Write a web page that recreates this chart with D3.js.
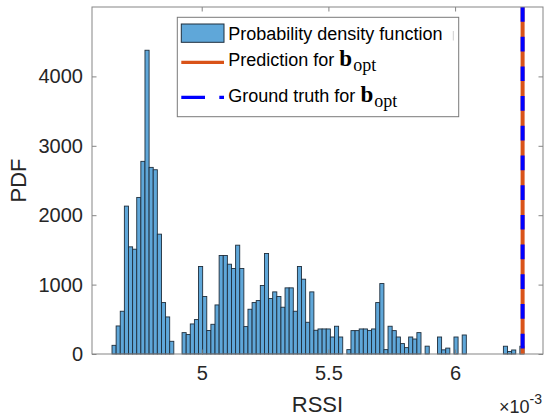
<!DOCTYPE html>
<html><head><meta charset="utf-8">
<script src="https://cdn.jsdelivr.net/npm/d3@7"></script>
<style>body{margin:0;background:#fff}svg{display:block}</style>
</head><body><svg id="c" width="546" height="418"></svg>
<script>
// ---- data (x in units of 1e-3) ----
const binStart = 4.646;
const binWidth = 0.01626;
const pdfValues = [
  125, 404, 616, 2131, 1544, 1510, 2256, 2776, 4377, 2689,
  2655, 1727, 741, 534, 183, 0, 0, 308, 280, 433,
  496, 1261, 828, 338, 428, 707, 1419, 1419, 1294, 1232,
  1568, 1232, 395, 645, 741, 770, 987, 1448, 799, 895,
  828, 674, 953, 953, 616, 1261, 1078, 457, 895, 342,
  361, 361, 361, 245, 400, 245, 0, 63, 337, 337,
  361, 361, 340, 361, 741, 1015, 63, 400, 337, 245,
  150, 92, 245, 216, 308, 0, 113, 0, 0, 245,
  60, 85, 0, 245, 0, 274, 0, 0, 0, 0,
  0, 0, 0, 0, 0, 112, 36, 58, 0, 112
];
const predictionValue = 6.2665;
const groundTruthValue = 6.2665;
const xTicks = [5, 5.5, 6];
const xTickLabels = ["5", "5.5", "6"];
const yTicks = [0, 1000, 2000, 3000, 4000];
const yTickLabels = ["0", "1000", "2000", "3000", "4000"];
const legendLabels = ["Probability density function", "Prediction for ", "Ground truth for "];
const xLabel = "RSSI", yLabel = "PDF";

// ---- layout ----
const L = 92, R = 543, T = 7, B = 354;
const svg = d3.select("#c");
const font = "'Liberation Sans', Arial, sans-serif";
const x = d3.scaleLinear().domain([4.567, 6.347]).range([L, R]);
const y = d3.scaleLinear().domain([0, 5000]).range([B, T]);

const barFill = "#5fa7d9", barEdge = "#1f2e3c";
const orange = "#D95319", blue = "#0000FF", axisCol = "#858585", txt = "#262626";

// bars
const bins = pdfValues.map((v, i) => ({x0: binStart + i * binWidth, x1: binStart + (i + 1) * binWidth, v}));
svg.append("g").selectAll("rect").data(bins.filter(d => d.v > 0)).join("rect")
  .attr("x", d => x(d.x0)).attr("width", d => x(d.x1) - x(d.x0))
  .attr("y", d => y(d.v)).attr("height", d => y(0) - y(d.v))
  .attr("fill", barFill).attr("stroke", barEdge).attr("stroke-width", 0.9);

// vertical lines
svg.append("line").attr("x1", x(predictionValue)).attr("x2", x(predictionValue))
  .attr("y1", T).attr("y2", B).attr("stroke", orange).attr("stroke-width", 4);
svg.append("line").attr("x1", x(groundTruthValue)).attr("x2", x(groundTruthValue))
  .attr("y1", T).attr("y2", B).attr("stroke", blue).attr("stroke-width", 4)
  .attr("stroke-dasharray", "14.7 15");

// axes
const tickLen = 4.5;
const gx = svg.append("g").attr("transform", `translate(0,${B})`)
  .call(d3.axisBottom(x).tickValues(xTicks).tickFormat((d, i) => xTickLabels[i]).tickSizeInner(-tickLen).tickSizeOuter(0).tickPadding(12));
const gy = svg.append("g").attr("transform", `translate(${L},0)`)
  .call(d3.axisLeft(y).tickValues(yTicks).tickFormat((d, i) => yTickLabels[i]).tickSizeInner(-tickLen).tickSizeOuter(0).tickPadding(9));
const gxt = svg.append("g").attr("transform", `translate(0,${T})`)
  .call(d3.axisTop(x).tickValues(xTicks).tickFormat("").tickSizeInner(-tickLen).tickSizeOuter(0));
const gyr = svg.append("g").attr("transform", `translate(${R},0)`)
  .call(d3.axisRight(y).tickValues(yTicks).tickFormat("").tickSizeInner(-tickLen).tickSizeOuter(0));
[gx, gy, gxt, gyr].forEach(g => {
  g.select(".domain").remove();
  g.selectAll("line").attr("stroke", axisCol);
  g.selectAll("text").attr("fill", txt).style("font-family", font).style("font-size", "20px");
});
svg.append("rect").attr("x", L).attr("y", T).attr("width", R - L).attr("height", B - T)
  .attr("fill", "none").attr("stroke", axisCol).attr("stroke-width", 1);

// axis labels
svg.append("text").attr("x", (L + R) / 2).attr("y", 412).attr("text-anchor", "middle")
  .style("font-family", font).style("font-size", "22px").attr("fill", txt).text(xLabel);
svg.append("text").attr("transform", `translate(26,${(T + B) / 2}) rotate(-90)`).attr("text-anchor", "middle")
  .style("font-family", font).style("font-size", "22px").attr("fill", txt).text(yLabel);
const mult = svg.append("text").attr("x", 542).attr("y", 413).attr("text-anchor", "end")
  .style("font-family", font).style("font-size", "18px").attr("fill", txt);
mult.append("tspan").text("\u00d710");
mult.append("tspan").attr("dy", -9).style("font-size", "14px").text("-3");

// legend
const lg = svg.append("g");
lg.append("rect").attr("x", 177.3).attr("y", 17.3).attr("width", 281.4).attr("height", 99.4)
  .attr("fill", "#fff").attr("stroke", "#7a7a7a").attr("stroke-width", 1);
lg.append("rect").attr("x", 181.3).attr("y", 24).attr("width", 42.7).attr("height", 18.3)
  .attr("fill", barFill).attr("stroke", barEdge).attr("stroke-width", 1);
lg.append("line").attr("x1", 181.3).attr("x2", 224).attr("y1", 62.3).attr("y2", 62.3)
  .attr("stroke", orange).attr("stroke-width", 3.3);
lg.append("line").attr("x1", 181.3).attr("x2", 224).attr("y1", 97.3).attr("y2", 97.3)
  .attr("stroke", blue).attr("stroke-width", 3.3).attr("stroke-dasharray", "23.7 14.3");
lg.append("line").attr("x1", 453.3).attr("x2", 453.3).attr("y1", 31).attr("y2", 40.5)
  .attr("stroke", "#cfcfcf").attr("stroke-width", 1);
const rowY = [40, 66, 101.7];
legendLabels.forEach((lab, i) => {
  const t = lg.append("text").attr("x", 228.3).attr("y", rowY[i]).attr("fill", "#000")
    .style("font-family", font).style("font-size", "18px");
  t.append("tspan").text(lab);
  if (i > 0) {
    t.append("tspan").style("font-family", "'Liberation Serif', 'Times New Roman', serif")
      .style("font-weight", "bold").style("font-size", "23px").text("b");
    t.append("tspan").attr("dy", 5).attr("dx", 1).style("font-family", "'Liberation Serif', 'Times New Roman', serif")
      .style("font-size", "18px").text("opt");
  }
});
</script></body></html>
